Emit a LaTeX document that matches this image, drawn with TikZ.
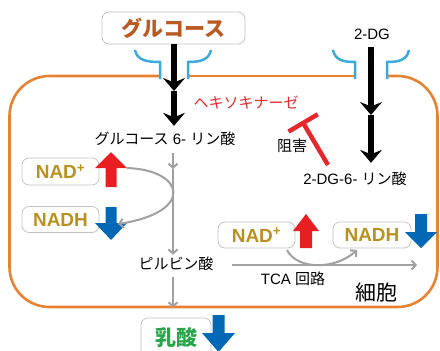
\documentclass[tikz,border=0pt]{standalone}
\usepackage{fontspec}
\setmainfont{Liberation Sans}
\newfontfamily\cjk{Noto Sans CJK JP}
\usetikzlibrary{arrows.meta,calc}
\definecolor{membor}{RGB}{230,130,50}
\definecolor{brblue}{RGB}{60,170,220}
\definecolor{arrred}{RGB}{232,30,35}
\definecolor{arrblue}{RGB}{0,104,180}
\definecolor{arrgray}{RGB}{160,160,160}
\definecolor{boxgray}{RGB}{195,195,195}
\definecolor{gold}{RGB}{185,145,30}
\definecolor{glcorange}{RGB}{185,90,35}
\definecolor{lacgreen}{RGB}{40,165,75}
\definecolor{hkred}{RGB}{230,40,45}
\newcommand\blockarrow[7]{\fill[#1] (#2,#3) -- (#2+#5,#4) -- (#2+#6,#4) -- (#2+#6,#7) -- (#2-#6,#7) -- (#2-#6,#4) -- (#2-#5,#4) -- cycle;}
\begin{document}
\begin{tikzpicture}[x=1pt,y=-1pt,
  box/.style={draw=boxgray, line width=0.8pt, rounded corners=7pt, fill=white, inner sep=0pt},
  nadtxt/.style={text=gold, font=\bfseries\fontsize{19}{21}\selectfont},
  txt/.style={font=\fontsize{15}{17}\selectfont, inner sep=1pt, text height=11pt, text depth=3pt},
  blkarr/.style={draw=black, line width=6.5pt, -{Stealth[length=13pt,width=22pt,inset=4.5pt]}},
  garr/.style={draw=arrgray, line width=2pt, -{Straight Barb[length=4pt,width=9pt]}},
  memb/.style={draw=membor, line width=2.6pt},
  bracket/.style={draw=brblue, line width=2.5pt},
  inh/.style={draw=hkred, line width=4.5pt, -{Bar[width=34pt]}}]
\useasboundingbox (0,0) rectangle (440,351);
\clip (0,0) rectangle (440,351);
% cell membrane
\draw[memb, rounded corners=40pt] (160,76) -| (9.5,307) -| (437.5,76) -- (387,76);
\draw[memb] (188,76) -- (355,76);
% transporters
\draw[bracket] (135,50) .. controls (137,60) and (146,62) .. (160,62) -- (160,79);
\draw[bracket] (211,50) .. controls (209,60) and (200,62) .. (188,62) -- (188,79);
\draw[bracket] (333,50) .. controls (335,60) and (343,62) .. (355,62) -- (355,79);
\draw[bracket] (409,50) .. controls (407,60) and (399,62) .. (387,62) -- (387,79);
% nodes
\node[box, minimum width=143pt, minimum height=32pt, text=glcorange, font=\cjk\bfseries\fontsize{21}{24}\selectfont] (glc) at (173.5,28) {グルコース};
\node[txt] (dg) at (372,35) {2-DG};
\node[txt] (g6p) at (165,140) {{\cjk グルコース} 6- {\cjk リン酸}};
\node[txt, text=hkred] (hk) at (246,104) {\cjk ヘキソキナーゼ};
\node[txt] (inhl) at (292,147) {\cjk 阻害};
\node[txt] (dg6p) at (355,180) {2-DG-6- {\cjk リン酸}};
\node[txt] (pyr) at (176,265) {\cjk ピルビン酸};
\node[txt] (tca) at (293,280) {TCA {\cjk 回路}};
\node[font=\cjk\fontsize{21}{24}\selectfont] (cell) at (376,293) {細胞};
\node[box, minimum width=77pt, minimum height=27pt, nadtxt] (nad1) at (60.5,171.5) {NAD\textsuperscript{+}};
\node[box, minimum width=77pt, minimum height=26pt, nadtxt] (nadh1) at (60.5,219.5) {NADH};
\node[box, minimum width=77pt, minimum height=26pt, nadtxt] (nad2) at (256.5,235) {NAD\textsuperscript{+}};
\node[box, minimum width=78pt, minimum height=26pt, nadtxt] (nadh2) at (372,235) {NADH};
\node[box, minimum width=70pt, minimum height=42pt, text=lacgreen, font=\cjk\bfseries\fontsize{21}{24}\selectfont, text depth=0pt, text height=18pt] (lac) at (176,339) {\raisebox{3pt}{乳酸}};
% block arrows
\blockarrow{arrred}{111}{152}{168}{16}{5.5}{187}
\blockarrow{arrblue}{111}{240}{223}{16}{5.5}{207}
\blockarrow{arrred}{306}{214}{231}{13}{6}{248}
\blockarrow{arrblue}{421}{248}{232}{16}{6}{214}
\blockarrow{arrblue}{218.5}{352}{333}{16.5}{6}{315}
% black arrows
\coordinate (m1) at (174,91);
\coordinate (m2) at (371,115);
\draw[blkarr] (glc.south -| m1) -- (m1);
\draw[blkarr, shorten >=6pt] (m1) -- (m1 |- g6p.north);
\draw[blkarr, shorten <=4pt] (dg.south -| m2) -- (m2);
\draw[blkarr, shorten >=9pt] (m2) -- (m2 |- dg6p.north);
% inhibition
\coordinate (inhs) at (328,165);
\coordinate (inhe) at (302,121);
\draw[inh] (inhs) -- (inhe);
% gray pathway
\coordinate (m3) at (173,169);
\coordinate (tcae) at (417,265);
\draw[garr, shorten <=5pt] (g6p.south -| m3) -- (m3);
\draw[garr, shorten >=2pt] (m3) -- (m3 |- pyr.north);
\draw[garr, shorten <=4pt, shorten >=10pt] (pyr.south -| m3) -- (m3 |- lac.north);
\draw[garr, shorten <=17pt] (pyr.east) -- (tcae);
% NAD cycling
\coordinate (ra1) at (127,168);
\coordinate (ba1) at (118,224);
\draw[garr] (ra1) .. controls (185,170) and (195,212) .. (ba1);
\coordinate (ra2) at (287,250);
\coordinate (ba2) at (357,250);
\draw[garr] (ra2) .. controls (297,270) and (335,270) .. (ba2);
\end{tikzpicture}
\end{document}
